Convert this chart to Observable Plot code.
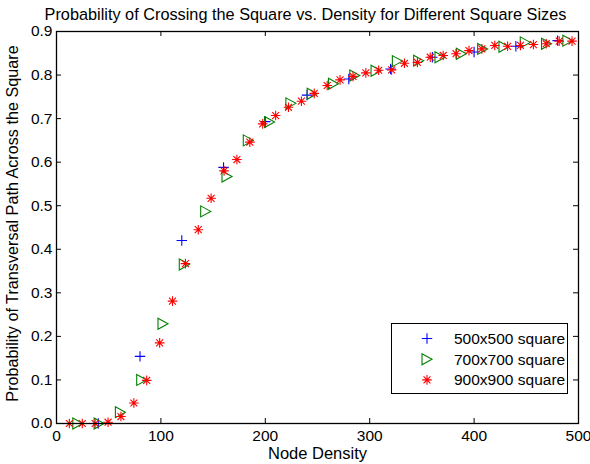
<!DOCTYPE html>
<html>
<head>
<meta charset="utf-8">
<script src="https://cdn.jsdelivr.net/npm/d3@7"></script>
<script src="https://cdn.jsdelivr.net/npm/@observablehq/plot@0.6"></script>
<style>
  html, body { margin: 0; padding: 0; background: #fff; }
  #wrap { position: relative; width: 590px; height: 464px; font-family: "Liberation Sans", Arial, sans-serif; }
  #legend { position: absolute; left: 391px; top: 323px; width: 177px; height: 71px; border: 1px solid #000; background: #fff; box-sizing: border-box; }
  #legend svg { position: absolute; left: 0; top: 0; }
</style>
</head>
<body>
<div id="wrap"></div>
<script>
// ---- data ----
const titleText = "Probability of Crossing the Square vs. Density for Different Square Sizes";
const xLabel = "Node Density";
const yLabel = "Probability of Transversal Path Across the Square";
const seriesNames = ["500x500 square", "700x700 square", "900x900 square"];
const seriesColors = ["#0000ff", "#008000", "#ff0000"];
const xTicks = [0, 100, 200, 300, 400, 500];
const yTicks = [0, 0.1, 0.2, 0.3, 0.4, 0.5, 0.6, 0.7, 0.8, 0.9];

const x500 = [40, 80, 120, 160, 200, 240, 280, 320, 360, 400, 440, 480];
const y500 = [0, 0.154, 0.42, 0.588, 0.693, 0.754, 0.791, 0.814, 0.841, 0.853, 0.866, 0.879];

const x700 = [20.4, 40.8, 61.2, 81.6, 102.0, 122.4, 142.9, 163.3, 183.7, 204.1, 224.5, 244.9,
              265.3, 285.7, 306.1, 326.5, 346.9, 367.3, 387.8, 408.2, 428.6, 449.0, 469.4, 489.8];
const y700 = [0, 0, 0.026, 0.100, 0.229, 0.365, 0.487, 0.567, 0.650, 0.692, 0.735, 0.757,
              0.780, 0.799, 0.810, 0.832, 0.833, 0.841, 0.849, 0.860, 0.865, 0.875, 0.872, 0.879];

const x900 = [12.3, 24.7, 37.0, 49.4, 61.7, 74.1, 86.4, 98.8, 111.1, 123.5, 135.8, 148.1, 160.5, 172.8,
              185.2, 197.5, 209.9, 222.2, 234.6, 246.9, 259.3, 271.6, 284.0, 296.3, 308.6, 321.0, 333.3,
              345.7, 358.0, 370.4, 382.7, 395.1, 407.4, 419.8, 432.1, 444.4, 456.8, 469.1, 481.5, 493.8];
const y900 = [0, 0, 0, 0.003, 0.016, 0.047, 0.099, 0.185, 0.281, 0.367, 0.445, 0.517, 0.580, 0.606,
              0.646, 0.688, 0.707, 0.726, 0.740, 0.758, 0.776, 0.789, 0.797, 0.805, 0.811, 0.812, 0.827,
              0.829, 0.841, 0.845, 0.849, 0.856, 0.860, 0.868, 0.866, 0.868, 0.870, 0.872, 0.878, 0.878];

// ---- marker symbols (MATLAB-like) ----
const symPlus = {draw(ctx, size) { const r = Math.sqrt(size / Math.PI);
  ctx.moveTo(-r, 0); ctx.lineTo(r, 0); ctx.moveTo(0, -r); ctx.lineTo(0, r); }};
const symTri = {draw(ctx, size) { const r = Math.sqrt(size / Math.PI);
  ctx.moveTo(-r, -r * 1.1); ctx.lineTo(r, 0); ctx.lineTo(-r, r * 1.1); ctx.closePath(); }};
const symStar = {draw(ctx, size) { const r = Math.sqrt(size / Math.PI), d = r * 0.72;
  ctx.moveTo(-r, 0); ctx.lineTo(r, 0); ctx.moveTo(0, -r); ctx.lineTo(0, r);
  ctx.moveTo(-d, -d); ctx.lineTo(d, d); ctx.moveTo(-d, d); ctx.lineTo(d, -d); }};
const symbols = [symPlus, symTri, symStar];
const radii = [5.2, 5, 4.8];

const W = 590, H = 464, mL = 56, mR = 12, mT = 31, mB = 41;
const innerW = W - mL - mR, innerH = H - mT - mB;
const tick = 5;

const toRows = (xs, ys) => xs.map((x, i) => ({x, y: ys[i]}));
const data = [toRows(x500, y500), toRows(x700, y700), toRows(x900, y900)];

const chart = Plot.plot({
  width: W, height: H,
  marginLeft: mL, marginRight: mR, marginTop: mT, marginBottom: mB,
  style: {fontFamily: '"Liberation Sans", Arial, sans-serif', fontSize: "15.5px", color: "#000", background: "#fff"},
  x: {domain: [0, 500]},
  y: {domain: [0, 0.9]},
  marks: [
    // inward ticks on all four sides
    Plot.tickX(xTicks, {x: d => d, insetTop: innerH - tick, stroke: "#000"}),
    Plot.tickX(xTicks, {x: d => d, insetBottom: innerH - tick, stroke: "#000"}),
    Plot.tickY(yTicks, {y: d => d, insetRight: innerW - tick, stroke: "#000"}),
    Plot.tickY(yTicks, {y: d => d, insetLeft: innerW - tick, stroke: "#000"}),
    Plot.axisX({ticks: xTicks, tickSize: 0, tickPadding: 6, label: null}),
    Plot.axisY({ticks: yTicks, tickSize: 0, tickPadding: 4, label: null}),
    ...data.map((rows, i) => Plot.dot(rows, {x: "x", y: "y", symbol: symbols[i], r: radii[i],
      fill: "none", stroke: seriesColors[i], strokeWidth: 1.1})),
    Plot.frame({stroke: "#000", strokeWidth: 1.3}),
    Plot.text([titleText], {text: d => d, frameAnchor: "top", lineAnchor: "middle", textAnchor: "middle", dx: -12, dy: -17, fontSize: 16.3}),
    Plot.text([xLabel], {text: d => d, frameAnchor: "bottom", lineAnchor: "middle", textAnchor: "middle", dy: 30, fontSize: 16.5}),
    Plot.text([yLabel], {text: d => d, frameAnchor: "left", lineAnchor: "middle", textAnchor: "middle", dx: -44, dy: -4, rotate: -90, fontSize: 16.2})
  ]
});
const wrap = document.getElementById("wrap");
wrap.appendChild(chart);

// ---- legend ----
const legend = document.createElement("div");
legend.id = "legend";
wrap.appendChild(legend);
const lsvg = d3.select(legend).append("svg").attr("width", 177).attr("height", 71);
seriesNames.forEach((name, i) => {
  const cy = 14.5 + i * 20.7;
  lsvg.append("path")
    .attr("d", d3.symbol(symbols[i], Math.PI * radii[i] * radii[i])())
    .attr("transform", `translate(35,${cy})`)
    .attr("fill", "none").attr("stroke", seriesColors[i]).attr("stroke-width", 1.1);
  lsvg.append("text").attr("x", 62).attr("y", cy).attr("dy", "0.35em")
    .attr("font-family", '"Liberation Sans", Arial, sans-serif').attr("font-size", 15.5)
    .text(name);
});
</script>
</body>
</html>
